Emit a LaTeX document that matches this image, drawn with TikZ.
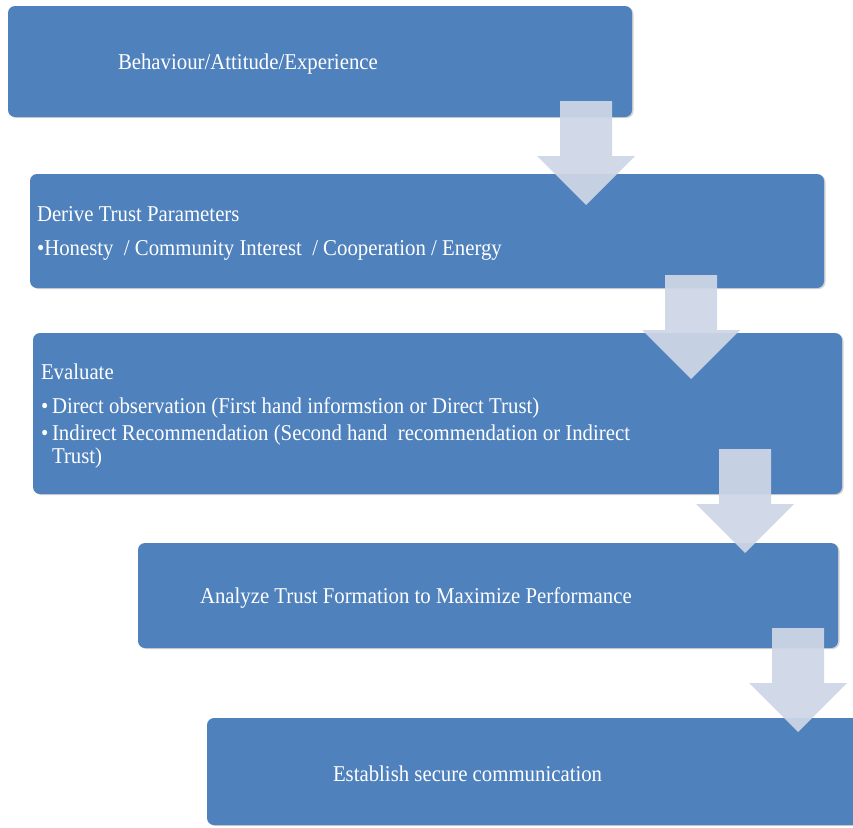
\documentclass[tikz,border=0pt]{standalone}
\usepackage{fontspec}
\setmainfont{Liberation Serif}[FakeStretch=0.92]
\usepackage{xcolor}
\definecolor{boxblue}{RGB}{79,129,189}
\definecolor{flowgray}{RGB}{206,214,230}
\usepackage{tikz}
\usetikzlibrary{positioning}
\usetikzlibrary{shadows}

\begin{document}
\begin{tikzpicture}[x=1pt,y=-1pt,
  stage/.style={rectangle,rounded corners=7pt,fill=boxblue,draw=none,inner sep=0pt,
    drop shadow={shadow xshift=1.5pt,shadow yshift=-1pt,opacity=0.35}},
  stagetext/.style={inner sep=0pt,align=left,text=white,yshift=-2.5pt,
    font=\fontsize{22.6}{23}\selectfont},
  flow/.style={fill=flowgray,fill opacity=0.93}]
\clip (0,0) rectangle (853,827);
% stages
\node[stage,minimum width=624pt,minimum height=111pt] (b1) at (320,61.5) {};
\node[stage,minimum width=794pt,minimum height=114pt] (b2) at (427,231) {};
\node[stage,minimum width=809pt,minimum height=161pt] (b3) at (437.5,413.5) {};
\node[stage,minimum width=700pt,minimum height=105pt] (b4) at (488,595.5) {};
\node[stage,minimum width=668pt,minimum height=107pt] (b5) at (541,771.5) {};
% texts
\node[stagetext,right=110pt of b1.west] (t1) {Behaviour/Attitude/Experience};
\node[stagetext,right=7pt of b2.west] (t2) {Derive Trust Parameters\\[11pt]
  •Honesty~ / Community Interest~ / Cooperation / Energy};
\node[stagetext,right=8pt of b3.west] (t3) {Evaluate\\[11pt]
  •\,Direct observation (First hand informstion or Direct Trust)\\[4pt]
  •\,Indirect Recommendation (Second hand~ recommendation or Indirect\\
  \hphantom{•\,}Trust)};
\node[stagetext,right=62pt of b4.west] (t4) {Analyze Trust Formation to Maximize Performance};
\node[stagetext,right=126pt of b5.west] (t5) {Establish secure communication};
% arrows
\coordinate (a1) at (586,101);
\coordinate (a2) at (691,275);
\coordinate (a3) at (745,449);
\coordinate (a4) at (798,628);
\fill[flow] (a1) ++(-26,0) -- ++(0,55) -- ++(-23,0) -- ++(49,49) -- ++(49,-49) -- ++(-23,0) -- ++(0,-55) -- cycle;
\fill[flow] (a2) ++(-26,0) -- ++(0,55) -- ++(-23,0) -- ++(49,49) -- ++(49,-49) -- ++(-23,0) -- ++(0,-55) -- cycle;
\fill[flow] (a3) ++(-26,0) -- ++(0,55) -- ++(-23,0) -- ++(49,49) -- ++(49,-49) -- ++(-23,0) -- ++(0,-55) -- cycle;
\fill[flow] (a4) ++(-26,0) -- ++(0,55) -- ++(-23,0) -- ++(49,49) -- ++(49,-49) -- ++(-23,0) -- ++(0,-55) -- cycle;
\end{tikzpicture}
\end{document}
